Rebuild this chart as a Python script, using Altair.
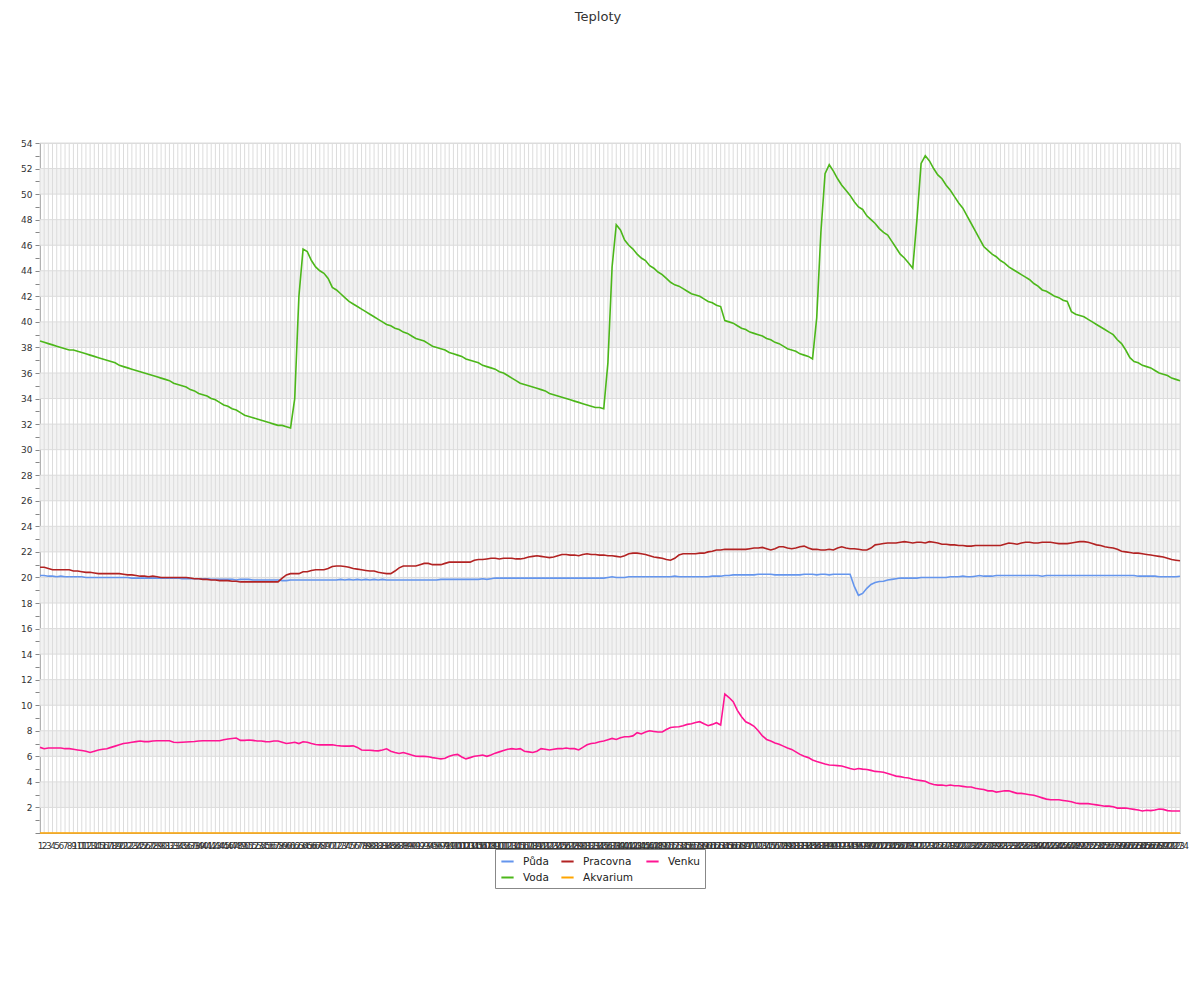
import altair as alt
import pandas as pd

N = 274
idx = list(range(1, N + 1))

puda = [
 20.15,20.15,20.1,20.1,20.05,20.1,20.05,20.05,20.05,20.05,
 20.05,20.0,20.0,20.0,20.0,20.0,20.0,20.0,20.0,20.0,
 20.0,20.0,19.95,19.95,19.95,19.95,19.95,19.95,19.95,19.95,
 19.95,19.95,19.95,19.95,19.9,19.9,19.9,19.9,19.9,19.9,
 19.9,19.85,19.85,19.85,19.85,19.85,19.85,19.8,19.85,19.85,
 19.85,19.8,19.8,19.8,19.8,19.8,19.8,19.8,19.75,19.75,
 19.8,19.8,19.8,19.8,19.8,19.8,19.8,19.8,19.8,19.8,
 19.8,19.8,19.85,19.8,19.85,19.8,19.85,19.8,19.85,19.8,
 19.85,19.8,19.85,19.8,19.8,19.8,19.8,19.8,19.8,19.8,
 19.8,19.8,19.8,19.8,19.8,19.8,19.85,19.85,19.85,19.85,
 19.85,19.85,19.85,19.85,19.85,19.85,19.9,19.85,19.9,19.95,
 19.95,19.95,19.95,19.95,19.95,19.95,19.95,19.95,19.95,19.95,
 19.95,19.95,19.95,19.95,19.95,19.95,19.95,19.95,19.95,19.95,
 19.95,19.95,19.95,19.95,19.95,19.95,20.0,20.05,20.0,20.0,
 20.0,20.05,20.05,20.05,20.05,20.05,20.05,20.05,20.05,20.05,
 20.05,20.05,20.1,20.05,20.05,20.05,20.05,20.05,20.05,20.05,
 20.05,20.1,20.1,20.1,20.15,20.15,20.2,20.2,20.2,20.2,
 20.2,20.2,20.25,20.25,20.25,20.25,20.2,20.2,20.2,20.2,
 20.2,20.2,20.2,20.25,20.25,20.25,20.2,20.25,20.25,20.2,
 20.25,20.25,20.25,20.25,20.25,19.3,18.6,18.75,19.15,19.45,
 19.6,19.68,19.7,19.8,19.85,19.9,19.95,19.95,19.95,19.95,
 19.95,20.0,20.0,20.0,20.0,20.0,20.0,20.0,20.05,20.05,
 20.05,20.1,20.05,20.05,20.1,20.15,20.1,20.1,20.1,20.15,
 20.15,20.15,20.15,20.15,20.15,20.15,20.15,20.15,20.15,20.15,
 20.1,20.15,20.15,20.15,20.15,20.15,20.15,20.15,20.15,20.15,
 20.15,20.15,20.15,20.15,20.15,20.15,20.15,20.15,20.15,20.15,
 20.15,20.15,20.15,20.1,20.1,20.1,20.1,20.1,20.05,20.05,
 20.05,20.05,20.05,20.1,
]

voda = [
 38.5,38.4,38.3,38.2,38.1,38.0,37.9,37.8,37.8,37.7,
 37.6,37.5,37.4,37.3,37.2,37.1,37.0,36.9,36.8,36.6,
 36.5,36.4,36.3,36.2,36.1,36.0,35.9,35.8,35.7,35.6,
 35.5,35.4,35.2,35.1,35.0,34.9,34.7,34.6,34.4,34.3,
 34.2,34.0,33.9,33.7,33.5,33.4,33.2,33.1,32.9,32.7,
 32.6,32.5,32.4,32.3,32.2,32.1,32.0,31.9,31.9,31.8,
 31.7,34.0,42.0,45.7,45.5,44.8,44.3,44.0,43.8,43.4,
 42.7,42.5,42.2,41.9,41.6,41.4,41.2,41.0,40.8,40.6,
 40.4,40.2,40.0,39.8,39.7,39.5,39.4,39.2,39.1,38.9,
 38.7,38.6,38.5,38.3,38.1,38.0,37.9,37.8,37.6,37.5,
 37.4,37.3,37.1,37.0,36.9,36.8,36.6,36.5,36.4,36.3,
 36.1,36.0,35.8,35.6,35.4,35.2,35.1,35.0,34.9,34.8,
 34.7,34.6,34.4,34.3,34.2,34.1,34.0,33.9,33.8,33.7,
 33.6,33.5,33.4,33.3,33.3,33.2,36.8,44.3,47.6,47.2,
 46.4,46.0,45.7,45.3,45.0,44.8,44.4,44.2,43.9,43.7,
 43.4,43.1,42.9,42.8,42.6,42.4,42.2,42.1,42.0,41.8,
 41.6,41.5,41.3,41.2,40.1,40.0,39.9,39.7,39.5,39.4,
 39.2,39.1,39.0,38.9,38.7,38.6,38.4,38.3,38.1,37.9,
 37.8,37.7,37.5,37.4,37.3,37.1,40.3,47.0,51.6,52.3,
 51.8,51.2,50.7,50.3,49.9,49.4,49.0,48.8,48.3,48.0,
 47.7,47.3,47.0,46.8,46.3,45.8,45.3,45.0,44.6,44.2,
 48.0,52.4,53.0,52.6,52.0,51.5,51.2,50.7,50.3,49.8,
 49.3,48.9,48.3,47.7,47.1,46.5,45.9,45.6,45.3,45.1,
 44.8,44.6,44.3,44.1,43.9,43.7,43.5,43.3,43.0,42.8,
 42.5,42.4,42.2,42.0,41.9,41.7,41.6,40.8,40.6,40.5,
 40.4,40.2,40.0,39.8,39.6,39.4,39.2,39.0,38.6,38.3,
 37.8,37.2,36.9,36.8,36.6,36.5,36.4,36.2,36.0,35.9,
 35.8,35.6,35.5,35.4,
]

pracovna = [
 20.8,20.8,20.7,20.6,20.6,20.6,20.6,20.6,20.5,20.5,
 20.45,20.4,20.4,20.35,20.3,20.3,20.3,20.3,20.3,20.3,
 20.25,20.2,20.2,20.15,20.1,20.1,20.05,20.1,20.05,20.0,
 20.0,20.0,20.0,20.0,20.0,20.0,19.95,19.9,19.9,19.85,
 19.85,19.8,19.8,19.75,19.75,19.75,19.7,19.7,19.65,19.65,
 19.65,19.65,19.65,19.65,19.65,19.65,19.65,19.65,19.95,20.2,
 20.3,20.3,20.3,20.45,20.45,20.55,20.6,20.6,20.6,20.7,
 20.85,20.9,20.9,20.85,20.8,20.7,20.65,20.6,20.55,20.5,
 20.5,20.4,20.35,20.3,20.3,20.5,20.75,20.9,20.9,20.9,
 20.9,21.0,21.1,21.1,21.0,21.0,21.0,21.1,21.2,21.2,
 21.2,21.2,21.2,21.2,21.35,21.4,21.4,21.45,21.5,21.5,
 21.45,21.5,21.5,21.5,21.45,21.45,21.5,21.6,21.65,21.7,
 21.65,21.6,21.55,21.6,21.7,21.8,21.8,21.75,21.75,21.7,
 21.8,21.85,21.8,21.8,21.75,21.75,21.7,21.7,21.65,21.6,
 21.7,21.85,21.9,21.9,21.85,21.8,21.7,21.6,21.55,21.5,
 21.4,21.35,21.5,21.75,21.85,21.85,21.85,21.85,21.9,21.9,
 22.0,22.05,22.15,22.15,22.2,22.2,22.2,22.2,22.2,22.2,
 22.25,22.3,22.3,22.35,22.25,22.15,22.25,22.4,22.4,22.3,
 22.25,22.3,22.4,22.45,22.3,22.2,22.2,22.15,22.15,22.2,
 22.15,22.3,22.4,22.3,22.25,22.25,22.2,22.15,22.15,22.3,
 22.55,22.6,22.65,22.7,22.7,22.7,22.75,22.8,22.75,22.7,
 22.75,22.75,22.7,22.8,22.75,22.7,22.6,22.6,22.55,22.55,
 22.5,22.5,22.45,22.45,22.5,22.5,22.5,22.5,22.5,22.5,
 22.5,22.6,22.7,22.65,22.6,22.7,22.75,22.75,22.7,22.7,
 22.75,22.75,22.75,22.7,22.65,22.65,22.65,22.7,22.75,22.8,
 22.8,22.75,22.65,22.55,22.5,22.4,22.35,22.3,22.2,22.05,
 22.0,21.95,21.9,21.9,21.85,21.8,21.75,21.7,21.65,21.6,
 21.5,21.4,21.35,21.3,
]

akvarium = [0.0] * N

venku = [
 6.7,6.6,6.65,6.65,6.65,6.65,6.6,6.6,6.55,6.5,
 6.45,6.4,6.3,6.4,6.5,6.55,6.6,6.7,6.8,6.9,
 7.0,7.05,7.1,7.15,7.2,7.15,7.15,7.2,7.22,7.22,
 7.22,7.22,7.1,7.08,7.1,7.12,7.14,7.16,7.2,7.22,
 7.22,7.22,7.22,7.22,7.3,7.35,7.4,7.43,7.25,7.25,
 7.28,7.25,7.2,7.2,7.15,7.14,7.2,7.2,7.1,7.0,
 7.05,7.1,7.0,7.14,7.1,7.0,6.93,6.9,6.9,6.9,
 6.9,6.85,6.82,6.8,6.8,6.82,6.7,6.5,6.48,6.48,
 6.45,6.43,6.5,6.59,6.4,6.3,6.22,6.3,6.2,6.1,
 6.01,6.0,6.0,5.97,5.9,5.85,5.8,5.85,6.0,6.1,
 6.15,5.95,5.8,5.9,6.0,6.05,6.1,6.0,6.1,6.25,
 6.35,6.45,6.55,6.6,6.55,6.6,6.4,6.35,6.3,6.4,
 6.6,6.55,6.5,6.55,6.6,6.6,6.65,6.6,6.6,6.5,
 6.7,6.9,7.0,7.05,7.14,7.2,7.3,7.4,7.32,7.45,
 7.53,7.53,7.6,7.85,7.75,7.9,8.0,7.95,7.9,7.9,
 8.1,8.25,8.3,8.31,8.4,8.5,8.55,8.65,8.71,8.55,
 8.4,8.5,8.63,8.45,10.88,10.6,10.27,9.6,9.1,8.7,
 8.55,8.35,8.0,7.6,7.32,7.2,7.05,6.95,6.8,6.65,
 6.54,6.35,6.15,6.0,5.9,5.72,5.6,5.5,5.4,5.32,
 5.3,5.27,5.24,5.15,5.05,4.97,5.05,5.0,4.97,4.9,
 4.82,4.79,4.75,4.66,4.55,4.45,4.41,4.35,4.3,4.2,
 4.15,4.1,4.05,3.9,3.8,3.75,3.75,3.7,3.75,3.7,
 3.7,3.65,3.6,3.6,3.5,3.45,3.4,3.3,3.3,3.2,
 3.25,3.3,3.3,3.2,3.1,3.1,3.05,3.0,2.95,2.85,
 2.75,2.65,2.6,2.6,2.6,2.55,2.5,2.45,2.35,2.3,
 2.3,2.3,2.25,2.2,2.15,2.1,2.1,2.05,1.95,1.95,
 1.95,1.9,1.85,1.8,1.72,1.78,1.75,1.8,1.88,1.85,
 1.75,1.72,1.72,1.72,
]

series_names = ["Půda", "Voda", "Pracovna", "Akvarium", "Venku"]
series_colors = ["#6495ED", "#4CB71A", "#B22222", "#FFA500", "#FF1493"]
series_values = {"Půda": puda, "Voda": voda, "Pracovna": pracovna,
                 "Akvarium": akvarium, "Venku": venku}

band_lows = list(range(2, 54, 4))          # grey bands 2-4, 6-8, ..., 50-52
grid_levels = list(range(0, 55, 2))

W, H = 1140, 690

rows = []
for k, name in enumerate(series_names):
    for i, v in zip(idx, series_values[name]):
        rows.append({"idx": i, "value": v, "series": name, "ord": k})
df = pd.DataFrame(rows)

bands_df = pd.DataFrame({"y": band_lows, "y2": [b + 2 for b in band_lows]})
grid_df = pd.DataFrame({"y": grid_levels})
vgrid_df = pd.DataFrame({"idx": idx})

yscale = alt.Scale(domain=[0, 54], nice=False, zero=True)
xscale = alt.Scale(type="point", padding=0)

x_axis = alt.Axis(labelAngle=0, labelOverlap=False, ticks=False, grid=False,
                  domainColor="#888888", labelColor="#333333", title=None,
                  labelFontSize=9, labelPadding=8, labelFont="DejaVu Sans")
y_axis = alt.Axis(values=list(range(0, 55)), grid=False, tickSize=5, title=None,
                  tickColor="#888888", domainColor="#888888",
                  labelColor="#333333", labelFontSize=9, labelPadding=3,
                  labelFont="DejaVu Sans",
                  labelExpr="(datum.value % 2 == 0 && datum.value > 0) ? datum.label : ''")

bands = alt.Chart(bands_df).mark_rect(color="#f2f2f2").encode(
    y=alt.Y("y:Q", scale=yscale, axis=y_axis),
    y2="y2:Q",
    x=alt.value(0), x2=alt.value(W),
)

hgrid = alt.Chart(grid_df).mark_rule(color="#dcdcdc", strokeWidth=1).encode(
    y=alt.Y("y:Q", scale=yscale, axis=y_axis),
    x=alt.value(0), x2=alt.value(W),
)

vgrid = alt.Chart(vgrid_df).mark_rule(color="#dcdcdc", strokeWidth=1).encode(
    x=alt.X("idx:O", scale=xscale, axis=x_axis),
    y=alt.value(0), y2=alt.value(H),
)

lines = alt.Chart(df).mark_line(strokeWidth=1.6).encode(
    x=alt.X("idx:O", scale=xscale, axis=x_axis),
    y=alt.Y("value:Q", scale=yscale, axis=y_axis),
    color=alt.Color("series:N",
                    scale=alt.Scale(domain=series_names, range=series_colors),
                    legend=alt.Legend(title=None, orient="none", legendX=455, legendY=706,
                                      columns=3, symbolType="stroke", symbolSize=150,
                                      symbolStrokeWidth=2, labelFontSize=10.5,
                                      labelFont="DejaVu Sans", labelColor="#222222",
                                      columnPadding=8, rowPadding=3, padding=5,
                                      strokeColor="#888888", fillColor="white",
                                      labelOffset=8)),
    order=alt.Order("ord:Q"),
    detail="series:N",
)

chart = alt.layer(bands, vgrid, hgrid, lines).properties(
    width=W, height=H,
    title=alt.TitleParams("Teploty", fontSize=13, fontWeight="normal", color="#333333",
                          font="DejaVu Sans", anchor="middle", offset=115, dx=-12),
    autosize=alt.AutoSizeParams(type="none"),
    padding={"left": 32, "top": 135, "right": 10, "bottom": 150},
).configure_view(stroke=None).configure(background="white")

chart.save("out.html", embed_options={"renderer": "svg", "actions": False})
